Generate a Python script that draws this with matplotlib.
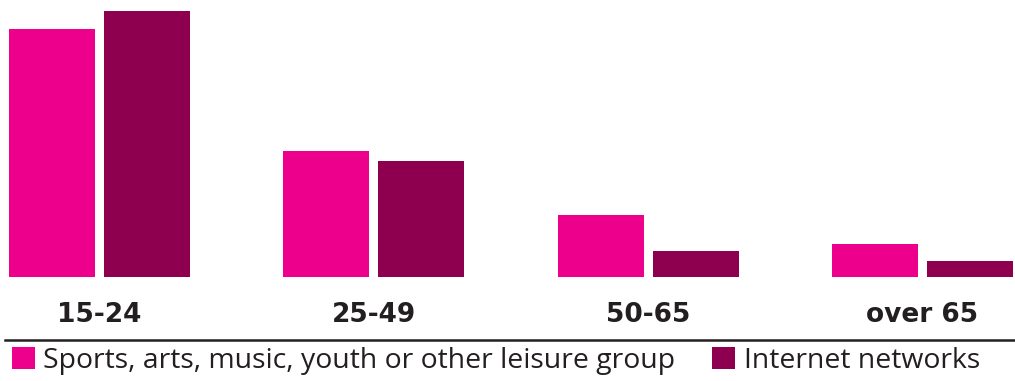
import numpy as np
import matplotlib.pyplot as plt
from matplotlib.lines import Line2D

# age groups and share of people in each type of group
groups = ["15-24", "25-49", "50-65", "over 65"]
leisure = [24.8, 12.6, 6.2, 3.3]
internet = [26.6, 11.6, 2.6, 1.6]
series_names = ["Sports, arts, music, youth or other leisure group", "Internet networks"]

pink = "#EC008C"
plum = "#8E004F"

W, H = 1015, 381
fig = plt.figure(figsize=(W / 100, H / 100), dpi=100)
# axes sit on the baseline at y=277px and span the full width
ax = fig.add_axes([0, (H - 277) / H, 1, 277 / H])

x = np.arange(len(groups))
step = 274.3
bw = 86 / step
off = 95 / 2 / step
b1 = ax.bar(x - off, leisure, bw, color=pink, label=series_names[0])
b2 = ax.bar(x + off, internet, bw, color=plum, label=series_names[1])

ax.set_xlim(-99.5 / step, (W - 99.5) / step)
ax.set_ylim(0, 27.7)
ax.set_yticks([])
ax.set_xticks(x)
ax.set_xticklabels(groups, fontsize=19, fontweight="bold", color="#231F20")
ax.tick_params(axis="x", length=0, pad=18)
for s in ax.spines.values():
    s.set_visible(False)

# rule between the axis labels and the legend
fig.add_artist(Line2D([5 / W, 1], [(H - 340) / H] * 2, color="#231F20", lw=1.8))

fig.legend(handles=[b1, b2], loc="center left", bbox_to_anchor=(12 / W, (H - 361) / H),
           ncol=2, frameon=False, handlelength=0.81, handleheight=0.81,
           handletextpad=0.3, columnspacing=1.3, borderaxespad=0, borderpad=0,
           prop={"family": "Open Sans", "size": 20.4})
for t in fig.legends[0].get_texts():
    t.set_color("#231F20")

fig.savefig("out.png", dpi=100)
